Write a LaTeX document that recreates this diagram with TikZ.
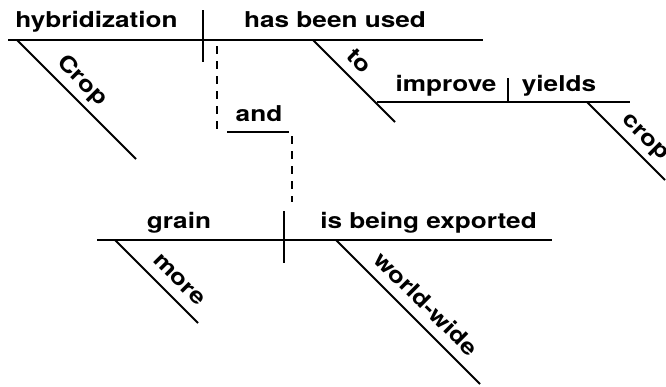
\documentclass[tikz,border=0pt]{standalone}
\usepackage{fontspec}
\setmainfont{TeX Gyre Heros}[FakeStretch=1.2]
\begin{document}
\begin{tikzpicture}[x=1pt,y=-1pt,
  ln/.style={line width=1.8pt},
  dsh/.style={line width=1.8pt, dash pattern=on 8pt off 7pt},
  wd/.style={font=\fontsize{21.8}{24}\selectfont\bfseries, inner sep=0pt, anchor=base},
  dwd/.style={wd, rotate=-45}]
\useasboundingbox (0,0) rectangle (666,386);
% coordinates
\coordinate (m1) at (8,40);    \coordinate (m2) at (483,40);
\coordinate (v1a) at (203,10); \coordinate (v1b) at (203,62);
\coordinate (c1a) at (17,40);  \coordinate (c1b) at (136,159);
\coordinate (t1a) at (313,40); \coordinate (t1b) at (395,122);
\coordinate (i1) at (377,102); \coordinate (i2) at (630,102);
\coordinate (v2a) at (508,78); \coordinate (v2b) at (508,101);
\coordinate (c2a) at (587,102); \coordinate (c2b) at (665,180);
\coordinate (d1a) at (217,46); \coordinate (d1b) at (217,133);
\coordinate (a1) at (227,132); \coordinate (a2) at (289,132);
\coordinate (d2a) at (292,136); \coordinate (d2b) at (292,202);
\coordinate (g1) at (97,240);  \coordinate (g2) at (552,240);
\coordinate (v3a) at (284,211); \coordinate (v3b) at (284,263);
\coordinate (mo1) at (115,240); \coordinate (mo2) at (198,323);
\coordinate (ww1) at (336,240); \coordinate (ww2) at (480,384);
% lines
\draw[ln] (m1) -- (m2);
\draw[ln] (v1a) -- (v1b);
\draw[ln] (c1a) -- (c1b);
\draw[ln] (t1a) -- (t1b);
\draw[ln] (i1) -- (i2);
\draw[ln] (v2a) -- (v2b);
\draw[ln] (c2a) -- (c2b);
\draw[dsh] (d1a) -- (d1b);
\draw[ln] (a1) -- (a2);
\draw[dsh] (d2a) -- (d2b);
\draw[ln] (g1) -- (g2);
\draw[ln] (v3a) -- (v3b);
\draw[ln] (mo1) -- (mo2);
\draw[ln] (ww1) -- (ww2);
% words
\node[wd] (hyb) at (96.5,27.3) {hybridization};
\node[wd] (hbu) at (335,27.3) {has been used};
\node[wd] (and) at (259,121.7) {and};
\node[wd] (imp) at (446,91.7) {improve};
\node[wd] (yld) at (559,91.7) {yields};
\node[wd] (grn) at (179,228.3) {grain};
\node[wd] (ibe) at (428.5,228.3) {is being exported};
\node[dwd] (crp1) at (77.8,85.2) {Crop};
\node[dwd] (to) at (354.3,65.7) {to};
\node[dwd] (crp2) at (641.4,140.8) {crop};
\node[dwd] (mor) at (174.8,284.2) {more};
\node[dwd] (wwd) at (420.8,309.2) {world-wide};
\end{tikzpicture}
\end{document}
